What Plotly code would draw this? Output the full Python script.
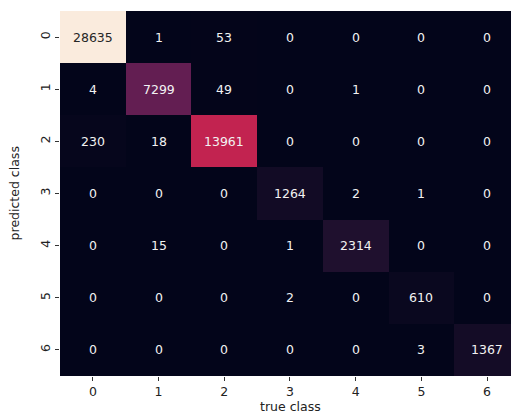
import plotly.graph_objects as go

classes = [0, 1, 2, 3, 4, 5, 6]
tick_labels = ["0", "1", "2", "3", "4", "5", "6"]
counts = [
    [28635, 1, 53, 0, 0, 0, 0],
    [4, 7299, 49, 0, 1, 0, 0],
    [230, 18, 13961, 0, 0, 0, 0],
    [0, 0, 0, 1264, 2, 1, 0],
    [0, 15, 0, 1, 2314, 0, 0],
    [0, 0, 0, 2, 0, 610, 0],
    [0, 0, 0, 0, 0, 3, 1367],
]
x_title = "true class"
y_title = "predicted class"

rocket = [
    [0.0, "#03051a"],
    [1/7, "#35193e"],
    [2/7, "#701f57"],
    [3/7, "#ad1759"],
    [4/7, "#e13342"],
    [5/7, "#f37651"],
    [6/7, "#f6b48f"],
    [1.0, "#faebdd"],
]

vmax = max(max(r) for r in counts)

fig = go.Figure(go.Heatmap(
    z=counts, x=classes, y=classes,
    colorscale=rocket, zmin=0, zmax=vmax,
    showscale=False, hoverinfo="skip",
))

font = "DejaVu Sans"
annotations = []
for i, row in enumerate(counts):
    for j, v in enumerate(row):
        frac = v / vmax
        color = "#262626" if frac > 0.75 else "#f2f2f2"
        annotations.append(dict(
            x=classes[j], y=classes[i], xref="x", yref="y",
            text=str(v), showarrow=False,
            font=dict(family=font, size=12.5, color=color),
        ))

annotations.append(dict(
    x=(290 - 60) / 451, y=-0.083, xref="paper", yref="paper",
    text=x_title, showarrow=False, yanchor="middle",
    font=dict(family=font, size=12.5, color="#222"),
))
annotations.append(dict(
    x=-0.1, y=0.5, xref="paper", yref="paper", xanchor="center",
    text=y_title, showarrow=False, textangle=-90,
    font=dict(family=font, size=12.5, color="#222"),
))

fig.update_layout(
    width=511, height=416,
    margin=dict(l=60, r=0, t=11, b=40),
    paper_bgcolor="white", plot_bgcolor="white",
    annotations=annotations,
    xaxis=dict(
        range=[-0.5, 6.364], tickmode="array", tickvals=classes, ticktext=tick_labels,
        ticks="outside", ticklen=4, tickcolor="#333", showgrid=False, zeroline=False,
        showline=False, tickfont=dict(family=font, size=12.5, color="#222"),
    ),
    yaxis=dict(
        range=[6.5, -0.5], tickmode="array", tickvals=classes, ticktext=tick_labels,
        ticks="outside", ticklen=4, tickcolor="#333", showgrid=False, zeroline=False,
        showline=False, tickangle=-90, tickfont=dict(family=font, size=12.5, color="#222"),
    ),
)

fig.write_html("out.html")
